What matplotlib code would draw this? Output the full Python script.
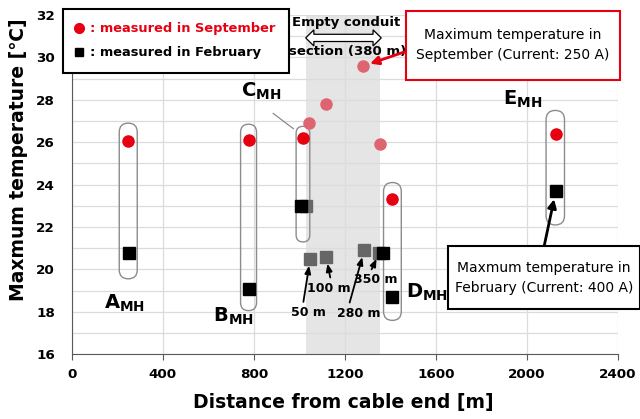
import matplotlib.pyplot as plt
from matplotlib.patches import FancyBboxPatch, Rectangle, Polygon
from matplotlib.lines import Line2D

# manhole measurements (A..E)
mh_names = ["A", "B", "C", "D", "E"]
sep_x = [247, 779, 1017, 1408, 2127]
sep_y = [26.04, 26.1, 26.2, 23.3, 26.4]
feb_x = [250, 779, 1009, 1367, 1408, 2127]
feb_y = [20.8, 19.07, 23.0, 20.8, 18.7, 23.7]

# points inside the empty conduit section
cond_sep_x = [1041, 1117, 1282, 1354]
cond_sep_y = [26.9, 27.8, 29.6, 25.9]
cond_feb_x = [1031, 1048, 1118, 1285, 1352]
cond_feb_y = [23.0, 20.5, 20.6, 20.9, 20.8]
cond_labels = ["", "50 m", "100 m", "280 m", "350 m"]

conduit_start, conduit_end = 1028, 1355

RED = "#e60012"
PINK = "#de6470"
GREY = "#666666"

plt.rcParams["font.family"] = ["DejaVu Sans"]
plt.rcParams["mathtext.fontset"] = "dejavusans"

fig = plt.figure(figsize=(6.4, 4.19), dpi=100)
ax = fig.add_axes([0.112, 0.1544, 0.8536, 0.8098])
ax.set_xlim(0, 2400)
ax.set_ylim(16, 32)
ax.set_axisbelow(True)

ax.set_xticks(range(0, 2401, 400))
ax.set_yticks(range(16, 33, 2))
ax.set_yticks(range(17, 32, 2), minor=True)
ax.grid(True, which="both", axis="y", color="#dcdcdc", lw=0.9)
ax.grid(True, which="major", axis="x", color="#dcdcdc", lw=0.9)
for lab in ax.get_xticklabels() + ax.get_yticklabels():
    lab.set_fontweight("bold")
ax.tick_params(axis="x", labelsize=9.7, length=4, color="#595959", pad=6)
ax.tick_params(axis="y", which="both", labelsize=9.7, length=0, pad=12)
for s in ["top", "right"]:
    ax.spines[s].set_visible(False)
for s in ["left", "bottom"]:
    ax.spines[s].set_color("#595959")

ax.axvspan(conduit_start, conduit_end, color="#e5e5e5", zorder=0.3, lw=0)

ax.set_xlabel("Distance from cable end [m]", fontsize=13.5, fontweight="bold")
ax.set_ylabel("Maxmum temperature [℃]", fontsize=13.5, fontweight="bold")
ax.xaxis.set_label_coords(0.497, -0.1435)
ax.xaxis.label.set_va("center")
ax.yaxis.set_label_coords(-0.098, 0.573)
ax.yaxis.label.set_va("center")

# capsules around each manhole pair
capsules = [(209, 288, 19.56, 26.9), (742, 812, 18.06, 26.85),
            (986, 1046, 21.3, 26.75), (1370, 1448, 17.6, 24.1),
            (2084, 2165, 22.1, 27.5)]
m_aspect = (16 / 339.3) / (2400 / 546.3)
for x0, x1, y0, y1 in capsules:
    w = x1 - x0
    ax.add_patch(FancyBboxPatch((x0, y0), w, y1 - y0,
                                boxstyle=f"round,pad=0,rounding_size={w/2}",
                                mutation_aspect=m_aspect, fc="none",
                                ec="#8c8c8c", lw=1.0, zorder=2))

# markers
ax.plot(cond_feb_x, cond_feb_y, "s", color=GREY, ms=8, zorder=3)
ax.plot(feb_x, feb_y, "s", color="black", ms=8, zorder=4)
ax.plot(cond_sep_x, cond_sep_y, "o", color=PINK, ms=8, zorder=3)
ax.plot(sep_x, sep_y, "o", color=RED, ms=8, zorder=4)

# manhole names
name_pos = [(230, 18.4), (712, 17.8), (830, 28.4), (1560, 18.9), (1980, 28.0)]
for n, (tx, ty) in zip(mh_names, name_pos):
    ax.text(tx, ty, r"$\mathbf{%s}_{\mathbf{MH}}$" % n, fontsize=14,
            ha="center", va="center", zorder=5)
ax.plot([885, 974], [27.36, 26.64], color="#7f7f7f", lw=0.8, zorder=2)

# distance labels in the conduit
lab_pos = {"50 m": (1038, 17.97, 0.35), "100 m": (1128, 19.12, 0.56),
           "280 m": (1260, 17.94, 0.27), "350 m": (1338, 19.51, 0.35)}
for cx, cy, lab in zip(cond_feb_x, cond_feb_y, cond_labels):
    if not lab:
        continue
    tx, ty, rp = lab_pos[lab]
    ax.annotate(lab, xy=(cx, cy), xytext=(tx, ty), ha="center", va="center",
                fontsize=9, fontweight="bold", zorder=6,
                arrowprops=dict(arrowstyle="-|>,head_length=0.5,head_width=0.2",
                                color="black", lw=1.3, relpos=(rp, 1),
                                shrinkA=1, shrinkB=5))

# empty conduit section marker
yc, hl, sh, hh = 30.92, 36, 0.17, 0.38
x0, x1 = conduit_start, conduit_end + 5
arrow = Polygon([(x0, yc), (x0 + hl, yc + hh), (x0 + hl, yc + sh),
                 (x1 - hl, yc + sh), (x1 - hl, yc + hh), (x1, yc),
                 (x1 - hl, yc - hh), (x1 - hl, yc - sh), (x0 + hl, yc - sh),
                 (x0 + hl, yc - hh)], closed=True, fc="white", ec="black",
                lw=0.9, zorder=5)
ax.add_patch(arrow)
ax.text(1205, 31.64, "Empty conduit", fontsize=9.5, fontweight="bold",
        ha="center", va="center", zorder=6)
ax.text(1213, 30.28, "section (380 m)", fontsize=9.5, fontweight="bold",
        ha="center", va="center", zorder=6)

# callout boxes
ax.add_patch(Rectangle((0.612, 0.8084), 0.3917, 0.2034, transform=ax.transAxes,
                       fc="white", ec=RED, lw=1.5, clip_on=False, zorder=6))
ax.text(0.807, 0.9125, "Maximum temperature in\nSeptember (Current: 250 A)",
        transform=ax.transAxes, ha="center", va="center", fontsize=10,
        linespacing=1.55, zorder=7)
ax.annotate("", xy=(cond_sep_x[2], cond_sep_y[2]), xytext=(0.6108, 0.892),
            textcoords="axes fraction", zorder=7,
            arrowprops=dict(arrowstyle="-|>,head_length=0.5,head_width=0.25",
                            color=RED, lw=2, shrinkA=0, shrinkB=5))

ax.add_patch(Rectangle((0.6883, 0.1335), 0.352, 0.1865, transform=ax.transAxes,
                       fc="white", ec="black", lw=1.5, clip_on=False, zorder=6))
ax.text(0.865, 0.2248, "Maxmum temperature in\nFebruary (Current: 400 A)",
        transform=ax.transAxes, ha="center", va="center", fontsize=10,
        linespacing=1.55, zorder=7)
ax.annotate("", xy=(feb_x[-1], feb_y[-1]), xytext=(0.865, 0.320),
            textcoords="axes fraction", zorder=7,
            arrowprops=dict(arrowstyle="-|>,head_length=0.5,head_width=0.25",
                            color="black", lw=2, shrinkA=0, shrinkB=6))

# legend
handles = [Line2D([], [], marker="o", ls="none", color=RED, ms=7),
           Line2D([], [], marker="s", ls="none", color="black", ms=6)]
leg = fig.legend(handles, [": measured in September", ": measured in February"],
                 loc="upper left", bbox_to_anchor=(62.7 / 640, 1 - 9.3 / 419),
                 fancybox=False, edgecolor="black", framealpha=1,
                 prop={"weight": "bold", "size": 9.4}, handlelength=0.5,
                 handletextpad=0.6, borderpad=1.0, labelspacing=0.85,
                 borderaxespad=0)
leg.get_frame().set_linewidth(1.5)
leg.get_texts()[0].set_color(RED)

fig.savefig("out.png", dpi=100)
